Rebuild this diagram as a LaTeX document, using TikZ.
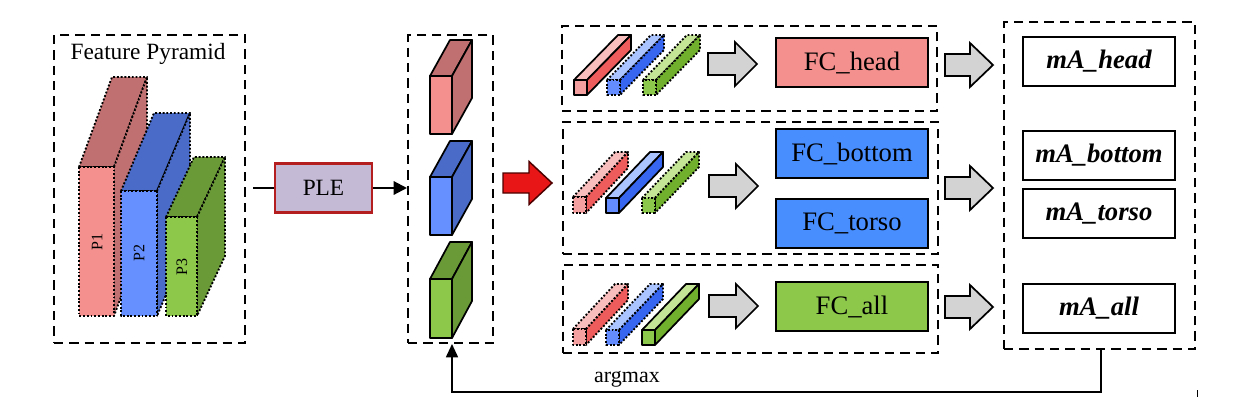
\documentclass[tikz,border=0pt]{standalone}
\usepackage{fontspec}
\setmainfont{Liberation Serif}
\usetikzlibrary{arrows.meta}
\definecolor{pkF}{RGB}{244,145,143}
\definecolor{pkT}{RGB}{192,112,112}
\definecolor{pkS}{RGB}{192,112,112}
\definecolor{blF}{RGB}{102,144,255}
\definecolor{blT}{RGB}{74,108,200}
\definecolor{blS}{RGB}{74,108,200}
\definecolor{grF}{RGB}{141,200,75}
\definecolor{grT}{RGB}{106,154,56}
\definecolor{grS}{RGB}{106,154,56}
\definecolor{rbF}{RGB}{245,160,160}
\definecolor{rbT}{RGB}{248,190,190}
\definecolor{rbS}{RGB}{238,92,92}
\definecolor{bbF}{RGB}{100,140,255}
\definecolor{bbT}{RGB}{170,196,255}
\definecolor{bbS}{RGB}{55,102,240}
\definecolor{gbF}{RGB}{140,200,75}
\definecolor{gbT}{RGB}{196,228,150}
\definecolor{gbS}{RGB}{112,176,45}
\definecolor{fcblue}{RGB}{72,142,255}
\definecolor{plefill}{RGB}{196,186,214}
\definecolor{pleedge}{RGB}{180,30,30}
\definecolor{redarrow}{RGB}{232,22,22}
\definecolor{grayarrow}{RGB}{211,211,211}
% cuboid: #1 outline style, #2 x1, #3 y1, #4 x2, #5 y2, #6 dx, #7 dy, #8 colour prefix
\newcommand\mycub[8]{%
  \filldraw[#1,fill=#8T] (#2,#3) -- ({#2+#6},{#3+#7}) -- ({#4+#6},{#3+#7}) -- (#4,#3) -- cycle;
  \filldraw[#1,fill=#8S] (#4,#3) -- ({#4+#6},{#3+#7}) -- ({#4+#6},{#5+#7}) -- (#4,#5) -- cycle;
  \filldraw[#1,fill=#8F] (#2,#3) rectangle (#4,#5);
}
% fat arrow: #1 style, #2 x0, #3 head base x, #4 tip x, #5 centre y, #6 shaft half, #7 head half
\newcommand\myfarrow[7]{%
  \filldraw[#1] (#2,{#5-#6}) -- (#3,{#5-#6}) -- (#3,{#5-#7}) -- (#4,#5) -- (#3,{#5+#7}) -- (#3,{#5+#6}) -- (#2,{#5+#6}) -- cycle;
}
\begin{document}
\begin{tikzpicture}[x=0.75pt,y=-0.75pt,
  dbox/.style={draw,line width=1.5pt,dash pattern=on 7pt off 4.5pt,inner sep=0pt},
  dots/.style={draw=black,line width=1.4pt,dash pattern=on 1.4pt off 1.4pt,line join=round},
  solid3d/.style={draw=black,line width=1.3pt,line join=round},
  fcbox/.style={draw=black,line width=1.1pt,minimum width=114pt,minimum height=36.75pt,inner sep=0pt,font=\fontsize{20}{22}\selectfont},
  mabox/.style={draw=black,line width=1.1pt,minimum width=114pt,minimum height=36.75pt,inner sep=0pt,font=\fontsize{20}{22}\selectfont\bfseries\itshape},
  garrow/.style={fill=grayarrow,draw=black,line width=1.3pt,line join=miter},
  conn/.style={line width=1.6pt,-{Triangle[length=10pt,width=10pt]}}
]
\useasboundingbox (0,0) rectangle (1236,415);

% Feature pyramid
\node[dbox,minimum width=143.25pt,minimum height=231pt] (fp) at (149.5,189) {};
\node[anchor=base,font=\fontsize{17.5}{19}\selectfont] (fptitle) at (148,59) {Feature Pyramid};
\mycub{dots}{79}{167}{114}{316}{33}{-90}{pk}
\mycub{dots}{121}{191}{157}{316}{33}{-78}{bl}
\mycub{dots}{166}{217}{197}{316}{28}{-60}{gr}
\node[rotate=90,font=\fontsize{12}{13}\selectfont] (p1) at (97,242) {P1};
\node[rotate=90,font=\fontsize{12}{13}\selectfont] (p2) at (139,253) {P2};
\node[rotate=90,font=\fontsize{12}{13}\selectfont] (p3) at (182,267) {P3};

% PLE
\coordinate (plein) at (253,188);
\node[draw=pleedge,fill=plefill,line width=2pt,minimum width=72.75pt,minimum height=36.75pt,inner sep=0pt,font=\fontsize{17.5}{19}\selectfont] (ple) at (323.5,188) {PLE};

% middle box
\node[dbox,minimum width=63.75pt,minimum height=231pt] (mid) at (450.5,189) {};
\mycub{solid3d}{430}{76}{452}{134}{20}{-36}{pk}
\mycub{solid3d}{430}{177}{452}{235}{20}{-36}{bl}
\mycub{solid3d}{430}{279}{452}{338}{20}{-37}{gr}

\draw[line width=1.6pt] (plein) -- (ple.west);
\draw[conn] (ple.east) -- (mid.west |- ple.east);

% red arrow
\myfarrow{fill=redarrow,draw=black!70!red,line width=1.1pt}{503}{529}{552}{183}{10}{21.5}

% branch boxes
\node[dbox,minimum width=281.25pt,minimum height=63.75pt] (b1) at (749.5,68.5) {};
\node[dbox,minimum width=281.25pt,minimum height=99pt] (b2) at (750.5,188) {};
\node[dbox,minimum width=281.25pt,minimum height=66pt] (b3) at (750.5,309) {};

% bars branch 1
\mycub{solid3d}{574}{80}{587}{95}{44}{-45}{rb}
\mycub{dots}{607}{80}{620}{95}{44}{-45}{bb}
\mycub{dots}{643}{80}{656}{95}{44}{-45}{gb}
% bars branch 2
\mycub{dots}{573}{197}{586}{213}{42}{-45}{rb}
\mycub{solid3d}{606}{198}{619}{213}{44}{-46}{bb}
\mycub{dots}{642}{198}{655}{213}{44}{-46}{gb}
% bars branch 3
\mycub{dots}{573}{329}{586}{345}{42}{-45}{rb}
\mycub{dots}{606}{330}{619}{345}{44}{-46}{bb}
\mycub{solid3d}{642}{330}{655}{345}{44}{-46}{gb}

% gray arrows left
\myfarrow{garrow}{708}{735}{757}{64}{11}{22}
\myfarrow{garrow}{709}{736}{758}{186}{11}{22}
\myfarrow{garrow}{709}{736}{758}{306}{11}{22}

% FC boxes
\node[fcbox,fill=pkF] (fchead) at (852,62.5) {FC\_head};
\node[fcbox,fill=fcblue] (fcbottom) at (852,153.5) {FC\_bottom};
\node[fcbox,fill=fcblue] (fctorso) at (852,223.5) {FC\_torso};
\node[fcbox,fill=grF] (fcall) at (852,306.5) {FC\_all};

% gray arrows right
\myfarrow{garrow}{945}{970}{993}{65}{11}{22}
\myfarrow{garrow}{945}{970}{993}{188}{11}{22}
\myfarrow{garrow}{945}{970}{993}{307}{11}{22}

% right box
\node[dbox,minimum width=143.25pt,minimum height=245.25pt] (res) at (1099.5,185.5) {};
\node[mabox] (mahead) at (1099,61.5) {mA\_head};
\node[mabox] (mabottom) at (1099,155.5) {mA\_bottom};
\node[mabox] (matorso) at (1099,213.5) {mA\_torso};
\node[mabox] (maall) at (1099,308.5) {mA\_all};

% argmax loop
\coordinate (lr) at (1101,392);
\coordinate (ll) at (452,392);
\draw[line width=1.3pt,-{Triangle[length=10pt,width=9pt]}] (res.south -| lr) -- (lr) -- (ll) -- (mid.south -| ll);
\node[font=\fontsize{16.5}{18}\selectfont] (argmax) at (627,379) {argmax};
\draw[line width=0.7pt] (1197,390) -- (1197,397);
\end{tikzpicture}
\end{document}
